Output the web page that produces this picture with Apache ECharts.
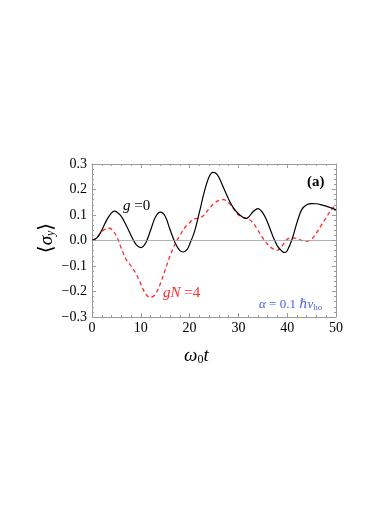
<!DOCTYPE html>
<html>
<head>
<meta charset="utf-8">
<script src="https://cdn.jsdelivr.net/npm/echarts@6/dist/echarts.min.js"></script>
<style>
  html, body { margin: 0; padding: 0; background: #fff; }
  #chart { width: 374px; height: 528px; }
</style>
</head>
<body>
<div id="chart"></div>
<script>
// time axis values (omega_0 t)
var tG0 = [0, 1, 2, 3, 4, 4.6, 5, 6, 7, 8, 9, 10, 11, 12, 13, 14, 15, 16, 17, 18, 18.7, 19.5, 20, 21, 22, 23, 24, 24.8, 25.5, 26, 27, 28, 29, 30, 31, 31.6, 32, 33, 34, 35, 36, 37, 38, 39, 39.5, 40, 41, 42, 43, 44, 45, 46, 47, 48, 49, 50];
var sG0 = [0, 0.01, 0.04, 0.08, 0.108, 0.115, 0.113, 0.095, 0.06, 0.02, -0.015, -0.028, -0.01, 0.04, 0.092, 0.111, 0.095, 0.042, -0.008, -0.04, -0.045, -0.035, -0.015, 0.035, 0.11, 0.19, 0.25, 0.267, 0.262, 0.248, 0.205, 0.162, 0.127, 0.105, 0.09, 0.087, 0.09, 0.113, 0.125, 0.108, 0.07, 0.02, -0.022, -0.043, -0.047, -0.04, 0.005, 0.07, 0.122, 0.14, 0.145, 0.144, 0.14, 0.135, 0.128, 0.12];

var tGN4 = [0, 1, 2, 3, 3.5, 4, 5, 6, 7, 8, 9, 10, 11, 12, 13, 14, 15, 16, 17, 18, 19, 20, 21, 22, 23, 24, 25, 26, 27, 28, 29, 30, 31, 32, 33, 34, 35, 36, 37, 38, 39, 40, 41, 42, 43, 44, 45, 46, 47, 48, 49, 50];
var sGN4 = [0, 0.012, 0.035, 0.047, 0.048, 0.044, 0.018, -0.03, -0.075, -0.1, -0.13, -0.17, -0.21, -0.224, -0.21, -0.17, -0.115, -0.06, -0.015, 0.02, 0.05, 0.07, 0.085, 0.088, 0.1, 0.125, 0.145, 0.157, 0.16, 0.148, 0.125, 0.1, 0.09, 0.085, 0.07, 0.04, 0.01, -0.015, -0.032, -0.038, -0.02, 0.005, 0.01, 0.008, 0.0, -0.003, 0.005, 0.03, 0.06, 0.09, 0.12, 0.14];

var xTicks = [0, 10, 20, 30, 40, 50];
var yTicks = [-0.3, -0.2, -0.1, 0, 0.1, 0.2, 0.3];

function pairs(xs, ys) {
  return xs.map(function (x, i) { return [x, ys[i]]; });
}

var chart = echarts.init(document.getElementById('chart'), null, { renderer: 'canvas' });
var serif = '"Liberation Serif", "DejaVu Serif", serif';
var frameColor = '#9a9a9a';

var axisCommon = {
  axisLine: { show: true, onZero: false, lineStyle: { color: frameColor, width: 1 } },
  axisTick: { show: true, inside: true, length: 4, lineStyle: { color: frameColor } },
  minorTick: { show: true, splitNumber: 5, length: 2, lineStyle: { color: frameColor } },
  splitLine: { show: false }
};

chart.setOption({
  backgroundColor: '#fff',
  animation: false,
  grid: { left: 92, right: 38, top: 164, bottom: 211 },
  xAxis: [
    Object.assign({
      type: 'value', min: xTicks[0], max: xTicks[xTicks.length - 1], interval: 10,
      position: 'bottom',
      axisLabel: { color: '#000', fontFamily: serif, fontSize: 14, margin: 4 }
    }, axisCommon),
    Object.assign({
      type: 'value', min: 0, max: 50, interval: 10, position: 'top',
      axisLabel: { show: false }
    }, axisCommon)
  ],
  yAxis: [
    Object.assign({
      type: 'value', min: yTicks[0], max: yTicks[yTicks.length - 1], interval: 0.1,
      position: 'left',
      axisLabel: {
        color: '#000', fontFamily: serif, fontSize: 14, margin: 5,
        formatter: function (v) { return (v < 0 ? '\u2212' : '') + Math.abs(v).toFixed(1); }
      }
    }, axisCommon),
    Object.assign({
      type: 'value', min: -0.3, max: 0.3, interval: 0.1, position: 'right',
      axisLabel: { show: false }
    }, axisCommon)
  ],
  series: [
    {
      name: 'g=0', type: 'line', smooth: 0.35, symbol: 'none',
      data: pairs(tG0, sG0),
      lineStyle: { color: '#000', width: 1.2 },
      z: 3,
      markLine: {
        silent: true, symbol: 'none', label: { show: false },
        lineStyle: { color: '#a0a0a0', width: 0.8, type: 'solid' },
        data: [{ yAxis: 0 }]
      }
    },
    {
      name: 'gN=4', type: 'line', smooth: 0.35, symbol: 'none',
      data: pairs(tGN4, sGN4),
      lineStyle: { color: '#ff2a2a', width: 1.3, type: [4, 3] },
      z: 2
    }
  ],
  graphic: [
    {
      type: 'text', left: 123, top: 199,
      style: {
        text: '{i|g} =0', fill: '#000',
        font: '15px ' + serif,
        rich: { i: { fontStyle: 'italic', fontFamily: serif, fontSize: 15 } }
      }
    },
    {
      type: 'text', left: 163, top: 286,
      style: {
        text: '{i|gN} =4', fill: '#ff2a2a',
        font: '15px ' + serif,
        rich: { i: { fontStyle: 'italic', fontFamily: serif, fontSize: 15, fill: '#ff2a2a' } }
      }
    },
    {
      type: 'text', left: 259, top: 298,
      style: {
        text: '{i|\u03b1} = 0.1 {i|\u210f\u03bd}{s|ho}', fill: '#4a5cf0',
        font: '13px ' + serif,
        rich: {
          i: { fontStyle: 'italic', fontFamily: serif, fontSize: 13, fill: '#4a5cf0' },
          s: { fontFamily: serif, fontSize: 9, fill: '#4a5cf0', padding: [6, 0, 0, 0] }
        }
      }
    },
    {
      type: 'text', left: 307, top: 175,
      style: { text: '(a)', fill: '#000', font: 'bold 15px ' + serif }
    },
    {
      type: 'text', x: 47, y: 238, rotation: Math.PI / 2,
      style: {
        text: '{b|\u27e8}{i|\u03c3}{s|y}{b|\u27e9}', fill: '#000',
        align: 'center', verticalAlign: 'middle',
        font: '18px ' + serif,
        rich: {
          b: { fontFamily: serif, fontSize: 20 },
          i: { fontStyle: 'italic', fontFamily: serif, fontSize: 19 },
          s: { fontStyle: 'italic', fontFamily: serif, fontSize: 12, padding: [8, 0, 0, 0] }
        }
      }
    },
    {
      type: 'text', left: 184, top: 346,
      style: {
        text: '{i|\u03c9}{s|0}{i|t}', fill: '#000',
        font: '18px ' + serif,
        rich: {
          i: { fontStyle: 'italic', fontFamily: serif, fontSize: 19 },
          s: { fontFamily: serif, fontSize: 12, padding: [8, 0, 0, 0] }
        }
      }
    }
  ]
});
</script>
</body>
</html>
